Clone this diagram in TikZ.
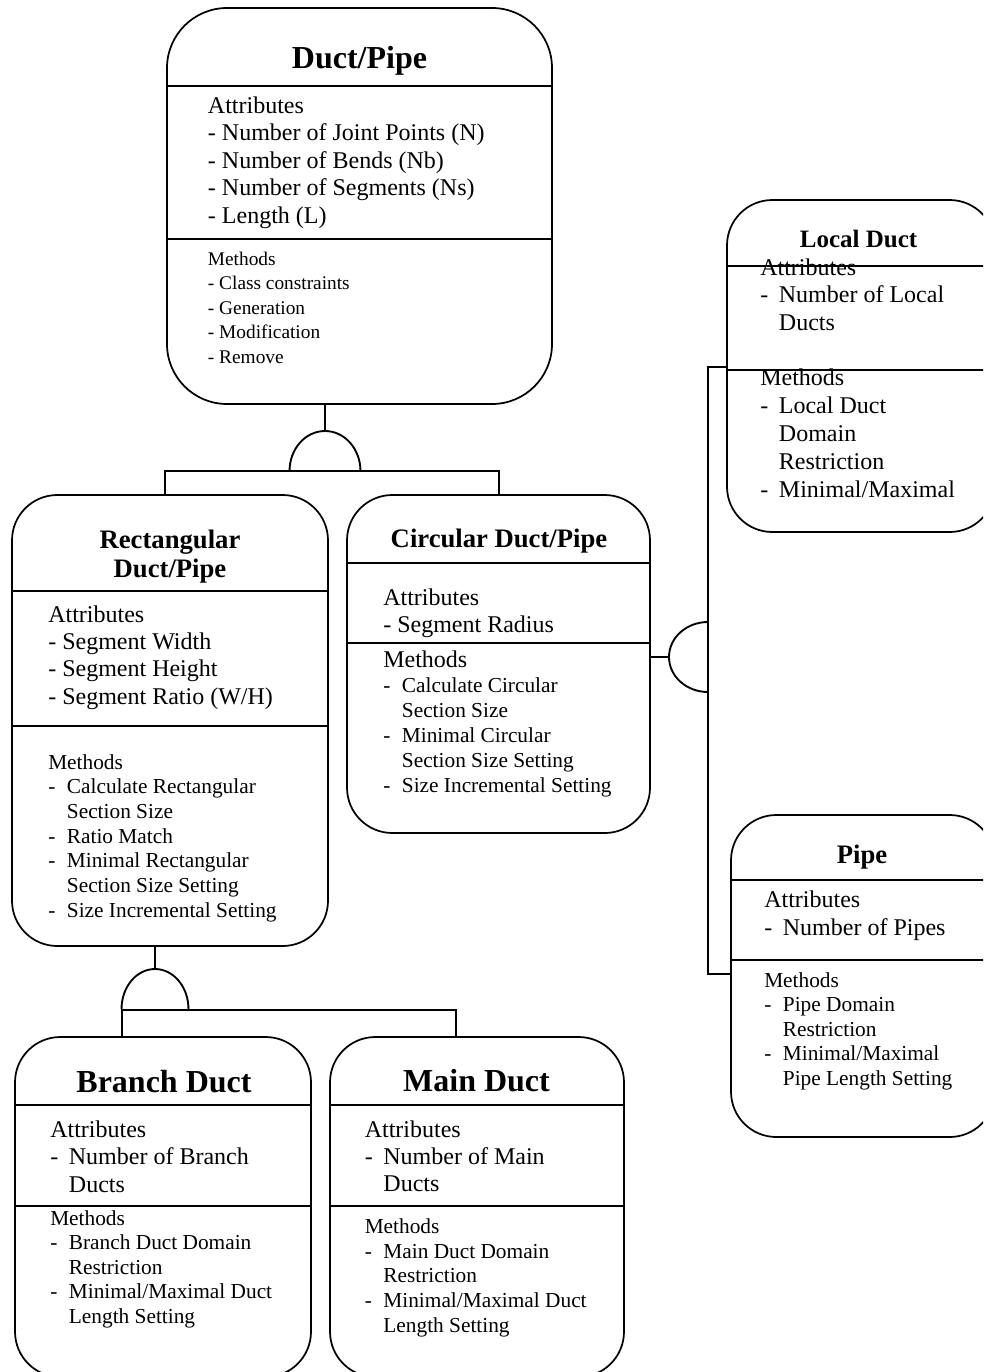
\documentclass[tikz,border=0pt]{standalone}
\usepackage{fontspec}
\setmainfont{Liberation Serif}
\usetikzlibrary{fit}
\newcommand\dsh{\makebox[14pt][l]{-}}
\newcommand\ind{\makebox[14pt]{}}

\begin{document}
\begin{tikzpicture}
[x=0.75pt,y=0.75pt,%
  cls/.style={draw,line width=1.3pt,rounded corners=34pt,inner sep=0pt},%
  ttl/.style={font=\bfseries,anchor=base,inner sep=0pt},%
  txt/.style={anchor=north west,align=left,inner sep=0pt},%
  sep/.style={line width=1.3pt},%
  link/.style={line width=1.4pt}]
\useasboundingbox (0,0) rectangle (983,-1372);
\clip (0,0) rectangle (983,-1372);
% class boxes
\node[cls,rounded corners=45pt,fit={(167,-8) (552,-404)}] (duct) {};
\node[cls,fit={(12,-495) (328,-946)}] (rect) {};
\node[cls,fit={(347,-495) (650,-833)}] (circ) {};
\node[cls,fit={(727,-200) (995,-532)}] (local) {};
\node[cls,fit={(731,-815) (995,-1137)}] (pipe) {};
\node[cls,fit={(15,-1037) (311,-1377)}] (branch) {};
\node[cls,fit={(330,-1037) (624,-1377)}] (main) {};
\draw[sep] (167,-86) -- (552,-86) (167,-239) -- (552,-239);
\draw[sep] (12,-591) -- (328,-591) (12,-726) -- (328,-726);
\draw[sep] (347,-563) -- (650,-563) (347,-643) -- (650,-643);
\draw[sep] (727,-266) -- (995,-266) (727,-370) -- (995,-370);
\draw[sep] (731,-880) -- (995,-880) (731,-960) -- (995,-960);
\draw[sep] (15,-1105) -- (311,-1105) (15,-1206) -- (311,-1206);
\draw[sep] (330,-1105) -- (624,-1105) (330,-1206) -- (624,-1206);
% titles
\node[ttl,font=\fontsize{24}{28}\selectfont\bfseries] (ductT) at (359.5,-68) {Duct/Pipe};
\node[ttl,anchor=north,align=center,font=\fontsize{20}{21.75}\selectfont\bfseries] (rectT) at (170,-527.7) {\strut Rectangular\\Duct/Pipe};
\node[ttl,font=\fontsize{20}{24}\selectfont\bfseries] (circT) at (499,-547) {Circular Duct/Pipe};
\node[ttl,font=\fontsize{18.75}{22}\selectfont\bfseries] (localT) at (858.5,-247) {Local Duct};
\node[ttl,font=\fontsize{20}{24}\selectfont\bfseries] (pipeT) at (862,-863) {Pipe};
\node[ttl,font=\fontsize{24}{28}\selectfont\bfseries] (branchT) at (164,-1092) {Branch Duct};
\node[ttl,font=\fontsize{24}{28}\selectfont\bfseries] (mainT) at (476.5,-1091) {Main Duct};
% compartments
\node[txt,font=\fontsize{18}{20.625}\selectfont] (ductA) at (207.7,-93.75)
  {\strut Attributes\\- Number of Joint Points (N)\\- Number of Bends (Nb)\\- Number of Segments (Ns)\\- Length (L)};
\node[txt,font=\fontsize{14.5}{18.375}\selectfont] (ductM) at (207.7,-247.85)
  {\strut Methods\\- Class constraints\\- Generation\\- Modification\\- Remove};
\node[txt,font=\fontsize{18}{20.5}\selectfont] (rectA) at (48,-602.9)
  {\strut Attributes\\- Segment Width\\- Segment Height\\- Segment Ratio (W/H)};
\node[txt,font=\fontsize{16}{18.5}\selectfont] (rectM) at (48,-751.7)
  {\strut Methods\\\dsh Calculate Rectangular\\\ind Section Size\\\dsh Ratio Match\\\dsh Minimal Rectangular\\\ind Section Size Setting\\\dsh Size Incremental Setting};
\node[txt,font=\fontsize{18}{20.25}\selectfont] (circA) at (383,-586.1)
  {\strut Attributes\\- Segment Radius};
\node[txt,font=\fontsize{16}{18.75}\selectfont] (circM) at (383,-649.5)
  {\strut{\fontsize{18}{18.75}\selectfont Methods}\\\dsh Calculate Circular\\\ind Section Size\\\dsh Minimal Circular\\\ind Section Size Setting\\\dsh Size Incremental Setting};
\node[txt,font=\fontsize{18}{20.625}\selectfont] (localA) at (760,-255.75)
  {\strut Attributes\\\dsh Number of Local\\\ind Ducts};
\node[txt,font=\fontsize{18}{21}\selectfont] (localM) at (760,-365.4)
  {\strut Methods\\\dsh Local Duct\\\ind Domain\\\ind Restriction\\\dsh Minimal/Maximal};
\node[txt,font=\fontsize{18}{21}\selectfont] (pipeA) at (764,-887.4)
  {\strut Attributes\\\dsh Number of Pipes};
\node[txt,font=\fontsize{16}{18.375}\selectfont] (pipeM) at (764,-969.85)
  {\strut Methods\\\dsh Pipe Domain\\\ind Restriction\\\dsh Minimal/Maximal\\\ind Pipe Length Setting};
\node[txt,font=\fontsize{18}{20.625}\selectfont] (branchA) at (50,-1117.75)
  {\strut Attributes\\\dsh Number of Branch\\\ind Ducts};
\node[txt,font=\fontsize{16}{18.375}\selectfont] (branchM) at (50,-1207.85)
  {\strut Methods\\\dsh Branch Duct Domain\\\ind Restriction\\\dsh Minimal/Maximal Duct\\\ind Length Setting};
\node[txt,font=\fontsize{18}{20.25}\selectfont] (mainA) at (364.5,-1118.1)
  {\strut Attributes\\\dsh Number of Main\\\ind Ducts};
\node[txt,font=\fontsize{16}{18.56}\selectfont] (mainM) at (364.5,-1215.7)
  {\strut Methods\\\dsh Main Duct Domain\\\ind Restriction\\\dsh Minimal/Maximal Duct\\\ind Length Setting};
% generalisation links
\coordinate (j1) at (325,-471);
\coordinate (b1l) at (165,-471);
\coordinate (b1r) at (499,-471);
\draw[link] (j1 |- duct.south) -- ([yshift=30pt]j1);
\draw[link] ([xshift=-26.6pt]j1) arc[start angle=180,end angle=0,x radius=26.6pt,y radius=30pt];
\draw[link] (rect.north -| b1l) -- (b1l) -- (b1r) -- (circ.north -| b1r);
\coordinate (j2) at (708,-657);
\coordinate (b2t) at (708,-367);
\coordinate (b2b) at (708,-974);
\draw[link] (circ.east |- j2) -- ([xshift=-29.25pt]j2);
\draw[link] ([yshift=26.25pt]j2) arc[start angle=90,end angle=270,x radius=29.25pt,y radius=26.25pt];
\draw[link] (local.west |- b2t) -- (b2t) -- (b2b) -- (pipe.west |- b2b);
\coordinate (j3) at (155,-1009);
\coordinate (b3l) at (122,-1010);
\coordinate (b3r) at (456,-1010);
\draw[link] (j3 |- rect.south) -- ([yshift=30pt]j3);
\draw[link] ([xshift=-25.1pt]j3) arc[start angle=180,end angle=0,x radius=25.1pt,y radius=30pt];
\draw[link] (branch.north -| b3l) -- (b3l) -- (b3r) -- (main.north -| b3r);
\end{tikzpicture}
\end{document}
